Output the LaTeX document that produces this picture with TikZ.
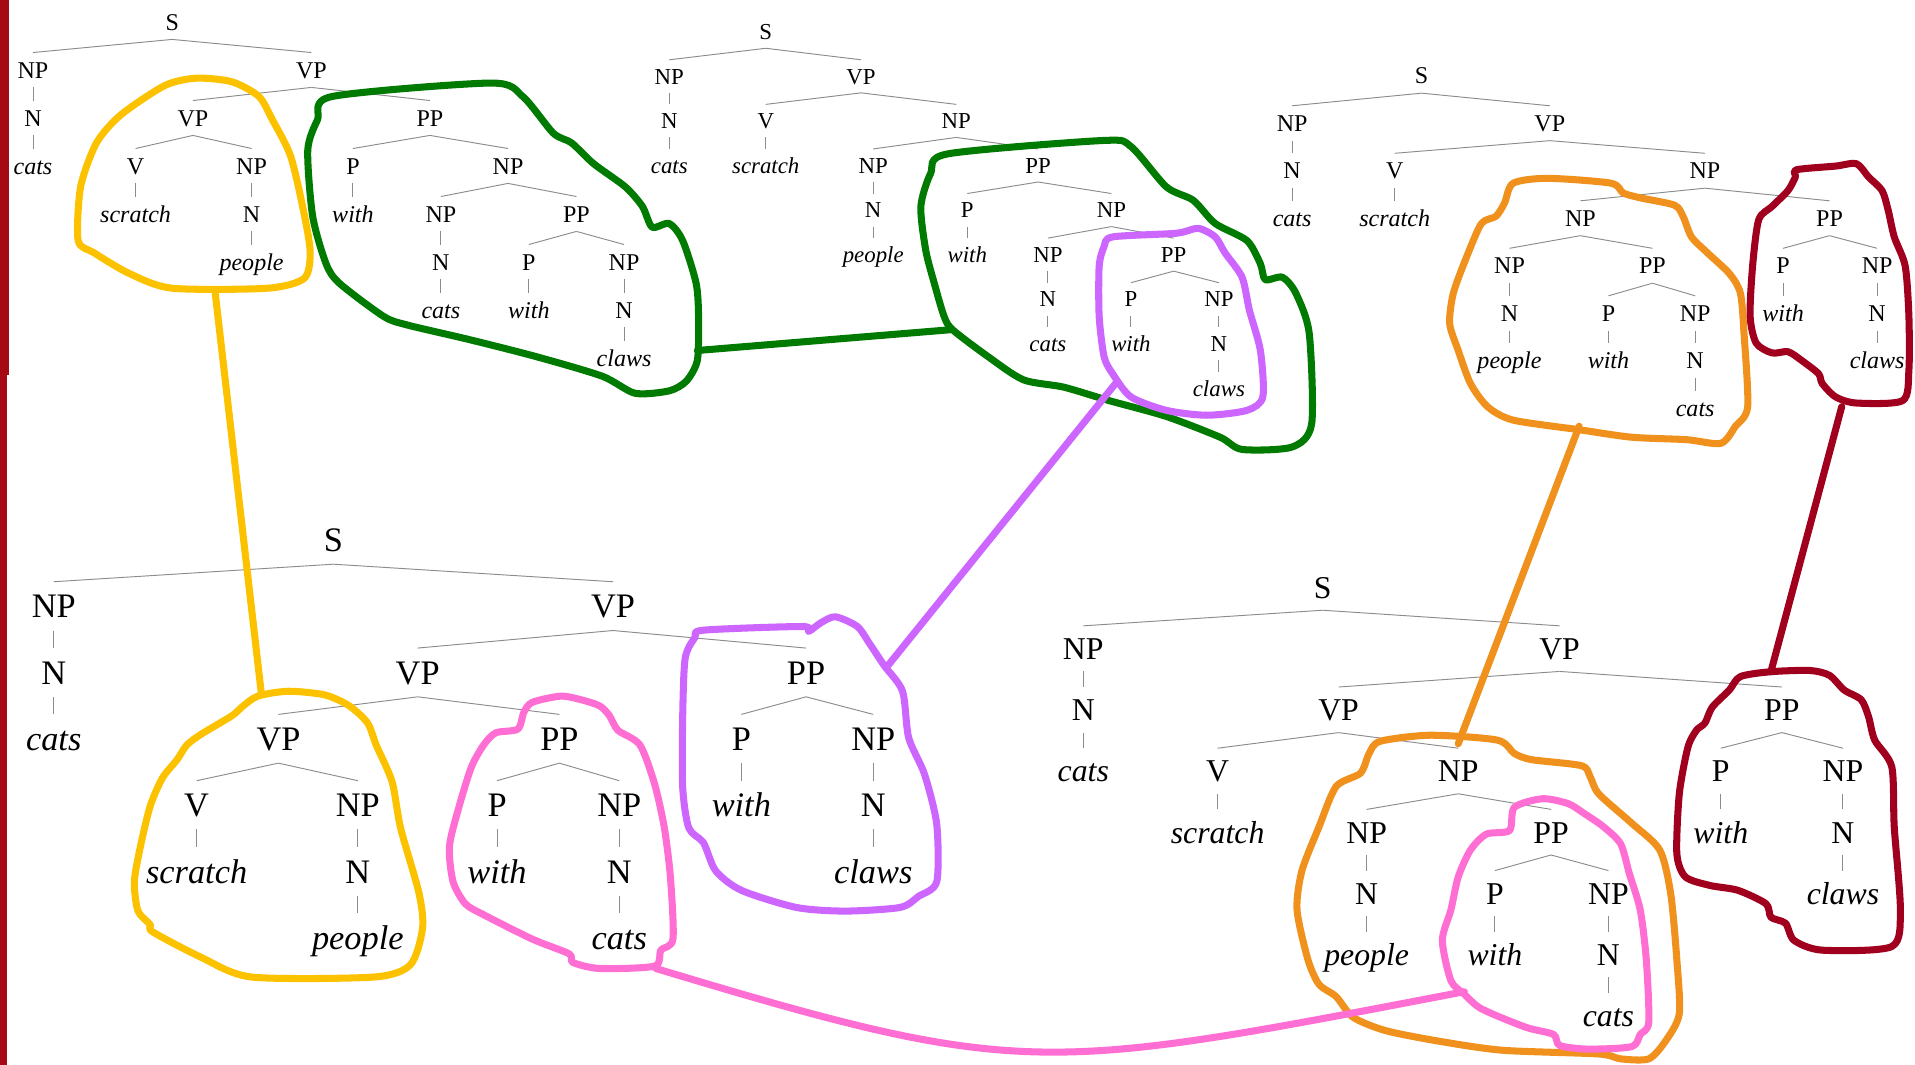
\documentclass[tikz,border=0pt]{standalone}
\usepackage{fontspec}
\setmainfont{Liberation Serif}
\definecolor{cyel}{RGB}{252,194,0}
\definecolor{cgrn}{RGB}{0,122,0}
\definecolor{cpur}{RGB}{204,102,255}
\definecolor{cpnk}{RGB}{255,110,210}
\definecolor{corg}{RGB}{240,145,30}
\definecolor{cdrd}{RGB}{160,0,30}
\definecolor{cbar}{RGB}{165,10,20}
\begin{document}
\begin{tikzpicture}[x=0.025cm,y=-0.025cm,
  tn/.style={inner sep=0pt,outer xsep=0pt,anchor=center,text depth=0pt},
  fA/.style={tn,font=\fontsize{14}{16}\selectfont,text height=9.5pt,outer ysep=0.19cm},
  fB/.style={tn,font=\fontsize{13.3}{15}\selectfont,text height=9.0pt,outer ysep=0.18cm},
  fD/.style={tn,font=\fontsize{20}{22}\selectfont,text height=13.6pt,outer ysep=0.26cm},
  fE/.style={tn,font=\fontsize{18.5}{20}\selectfont,text height=12.6pt,outer ysep=0.245cm},
  br/.style={draw=black!45,line width=0.55pt},
  blob/.style={line width=4.1pt,line join=round,line cap=round},
  bl/.style={blob,smooth cycle,tension=0.45}]
\useasboundingbox (0,0) rectangle (1568,872);
\fill[cbar] (0,0) rectangle (7,307);
\fill[cbar] (0,307) rectangle (6,872);

% tree 1 (top left)
\begin{scope}[every node/.style={fA}]
\foreach \n/\x/\l/\t in {a0/141/0/S, a1/27/1/NP, a2/255/1/VP, a3/27/2/N, a4/27/3/\textit{cats}, a5/158/2/VP, a6/352/2/PP, a7/111/3/V, a8/206/3/NP, a9/111/4/\textit{scratch}, a10/206/4/N, a11/206/5/\textit{people}, a12/289/3/P, a13/416/3/NP, a14/289/4/\textit{with}, a15/361/4/NP, a16/472/4/PP, a17/361/5/N, a18/361/6/\textit{cats}, a19/433/5/P, a20/511/5/NP, a21/433/6/\textit{with}, a22/511/6/N, a23/511/7/\textit{claws}}
  \node (\n) at (\x,18+39.3*\l) {\t};
\end{scope}
\foreach \p/\c in {a0/a1,a0/a2,a1/a3,a3/a4,a2/a5,a2/a6,a5/a7,a5/a8,a7/a9,a8/a10,a10/a11,a6/a12,a6/a13,a12/a14,a13/a15,a13/a16,a15/a17,a17/a18,a16/a19,a16/a20,a19/a21,a20/a22,a22/a23}
  \draw[br] (\p.south) -- (\c.north);

% tree 2 (top middle)
\begin{scope}[every node/.style={fB}]
\foreach \n/\x/\l/\t in {b0/627/0/S, b1/548/1/NP, b2/705/1/VP, b3/548/2/N, b4/548/3/\textit{cats}, b5/627/2/V, b6/783/2/NP, b7/627/3/\textit{scratch}, b8/715/3/NP, b9/850/3/PP, b10/715/4/N, b11/715/5/\textit{people}, b12/792/4/P, b13/910/4/NP, b14/792/5/\textit{with}, b15/858/5/NP, b16/961/5/PP, b17/858/6/N, b18/858/7/\textit{cats}, b19/926/6/P, b20/998/6/NP, b21/926/7/\textit{with}, b22/998/7/N, b23/998/8/\textit{claws}}
  \node (\n) at (\x,26+36.5*\l) {\t};
\end{scope}
\foreach \p/\c in {b0/b1,b0/b2,b1/b3,b3/b4,b2/b5,b2/b6,b5/b7,b6/b8,b6/b9,b8/b10,b10/b11,b9/b12,b9/b13,b12/b14,b13/b15,b13/b16,b15/b17,b17/b18,b16/b19,b16/b20,b19/b21,b20/b22,b22/b23}
  \draw[br] (\p.south) -- (\c.north);

% tree 3 (top right)
\begin{scope}[every node/.style={fA}]
\foreach \n/\x/\l/\t in {c0/1164/0/S, c1/1058/1/NP, c2/1269/1/VP, c3/1058/2/N, c4/1058/3/\textit{cats}, c5/1142/2/V, c6/1396/2/NP, c7/1142/3/\textit{scratch}, c8/1294/3/NP, c9/1498/3/PP, c10/1236/4/NP, c11/1353/4/PP, c12/1236/5/N, c13/1236/6/\textit{people}, c14/1317/5/P, c15/1388/5/NP, c16/1317/6/\textit{with}, c17/1388/6/N, c18/1388/7/\textit{cats}, c19/1460/4/P, c20/1537/4/NP, c21/1460/5/\textit{with}, c22/1537/5/N, c23/1537/6/\textit{claws}}
  \node (\n) at (\x,62+38.9*\l) {\t};
\end{scope}
\foreach \p/\c in {c0/c1,c0/c2,c1/c3,c3/c4,c2/c5,c2/c6,c5/c7,c6/c8,c6/c9,c8/c10,c8/c11,c10/c12,c12/c13,c11/c14,c11/c15,c14/c16,c15/c17,c17/c18,c9/c19,c9/c20,c19/c21,c20/c22,c22/c23}
  \draw[br] (\p.south) -- (\c.north);

% tree 4 (bottom left)
\begin{scope}[every node/.style={fD}]
\foreach \n/\x/\l/\t in {d0/273/0/S, d1/44/1/NP, d2/502/1/VP, d3/44/2/N, d4/44/3/\textit{cats}, d5/342/2/VP, d6/660/2/PP, d7/228/3/VP, d8/458/3/PP, d9/161/4/V, d10/293/4/NP, d11/161/5/\textit{scratch}, d12/293/5/N, d13/293/6/\textit{people}, d14/407/4/P, d15/507/4/NP, d16/407/5/\textit{with}, d17/507/5/N, d18/507/6/\textit{cats}, d19/607/3/P, d20/715/3/NP, d21/607/4/\textit{with}, d22/715/4/N, d23/715/5/\textit{claws}}
  \node (\n) at (\x,442+54.3*\l) {\t};
\end{scope}
\foreach \p/\c in {d0/d1,d0/d2,d1/d3,d3/d4,d2/d5,d2/d6,d5/d7,d5/d8,d7/d9,d7/d10,d9/d11,d10/d12,d12/d13,d8/d14,d8/d15,d14/d16,d15/d17,d17/d18,d6/d19,d6/d20,d19/d21,d20/d22,d22/d23}
  \draw[br] (\p.south) -- (\c.north);

% tree 5 (bottom right)
\begin{scope}[every node/.style={fE}]
\foreach \n/\x/\l/\t in {e0/1083/0/S, e1/887/1/NP, e2/1277/1/VP, e3/887/2/N, e4/887/3/\textit{cats}, e5/1096/2/VP, e6/1459/2/PP, e7/997/3/V, e8/1194/3/NP, e9/997/4/\textit{scratch}, e10/1119/4/NP, e11/1270/4/PP, e12/1119/5/N, e13/1119/6/\textit{people}, e14/1224/5/P, e15/1317/5/NP, e16/1224/6/\textit{with}, e17/1317/6/N, e18/1317/7/\textit{cats}, e19/1409/3/P, e20/1509/3/NP, e21/1409/4/\textit{with}, e22/1509/4/N, e23/1509/5/\textit{claws}}
  \node (\n) at (\x,481+50.1*\l) {\t};
\end{scope}
\foreach \p/\c in {e0/e1,e0/e2,e1/e3,e3/e4,e2/e5,e2/e6,e5/e7,e5/e8,e7/e9,e8/e10,e8/e11,e10/e12,e12/e13,e11/e14,e11/e15,e14/e16,e15/e17,e17/e18,e6/e19,e6/e20,e19/e21,e20/e22,e22/e23}
  \draw[br] (\p.south) -- (\c.north);

% blobs
\draw[bl,cyel] plot coordinates {(161,64) (190,67) (212,79) (223,98) (238,128) (249,175) (254,207) (249,228) (219,236) (141,236) (106,224) (77,207) (64,197) (66,153) (79,117) (99,94) (135,70)};
\draw[bl,cgrn] plot coordinates {(272,79) (402,68) (428,79) (453,109) (468,117) (486,134) (512,153) (526,169) (534,186) (548,183) (559,197) (570,232) (572,260) (571,295) (562,312) (548,320) (520,322) (493,308) (439,292) (384,278) (333,266) (314,259) (278,232) (267,216) (256,177) (252,123) (260,98)};
\draw[bl,cgrn] plot coordinates {(776,126) (904,115) (926,120) (955,153) (977,164) (995,183) (1021,197) (1032,216) (1036,229) (1050,227) (1061,240) (1072,273) (1074,347) (1058,366) (1017,368) (999,358) (955,341) (908,328) (871,317) (838,311) (809,292) (780,270) (773,259) (765,232) (758,205) (754,169) (762,142)};
\draw[bl,cpur] plot coordinates {(911,194) (963,191) (981,187) (995,194) (1003,207) (1017,227) (1023,254) (1032,287) (1034,325) (1021,336) (988,340) (955,336) (926,325) (911,306) (904,292) (900,259) (900,218) (904,202)};
\draw[bl,corg] plot coordinates {(1239,150) (1267,146) (1319,150) (1329,158) (1343,162) (1371,168) (1378,177) (1385,194) (1398,207) (1416,224) (1425,240) (1428,273) (1431,333) (1421,349) (1409,363) (1381,360) (1336,358) (1294,352) (1239,344) (1218,333) (1204,314) (1194,287) (1187,265) (1190,240) (1201,210) (1213,183) (1225,177) (1232,166)};
\draw[bl,cdrd] plot coordinates {(1471,139) (1503,136) (1520,134) (1530,145) (1541,156) (1546,172) (1551,194) (1560,218) (1563,259) (1563,303) (1558,328) (1520,330) (1503,325) (1492,314) (1489,306) (1475,295) (1464,288) (1451,289) (1438,281) (1433,259) (1435,218) (1440,180) (1451,169) (1464,156) (1470,145)};
\draw[bl,cyel] plot coordinates {(236,566) (211,570) (198,579) (190,586) (165,601) (153,610) (145,622) (133,637) (123,660) (115,693) (110,722) (113,746) (123,757) (125,763) (165,784) (206,800) (306,800) (336,790) (346,760) (343,731) (328,678) (321,640) (308,610) (301,592) (286,578) (266,569)};
\draw[bl,cpnk] plot coordinates {(459,570) (436,575) (429,583) (424,597) (406,600) (396,610) (386,628) (376,660) (368,693) (371,722) (381,740) (396,749) (436,769) (466,781) (469,788) (491,793) (536,791) (541,778) (551,769) (549,719) (544,678) (536,642) (524,610) (506,598) (499,586) (491,578) (476,573)};
\draw[bl,cpur] plot coordinates {(576,516) (657,513) (662,517) (672,510) (684,505) (702,513) (712,527) (724,545) (739,566) (744,604) (757,634) (767,675) (767,722) (752,734) (737,743) (692,746) (652,743) (607,729) (586,713) (576,690) (564,678) (559,645) (559,586) (561,539) (569,522)};
\draw[bl,corg] plot coordinates {(1130,607) (1171,602) (1226,606) (1240,617) (1254,622) (1295,627) (1302,636) (1309,650) (1336,674) (1359,696) (1368,732) (1373,786) (1375,830) (1364,852) (1350,867) (1327,867) (1309,863) (1231,860) (1181,853) (1135,844) (1108,833) (1094,816) (1080,806) (1071,786) (1062,745) (1066,713) (1080,677) (1094,644) (1114,633) (1121,617)};
\draw[bl,cpnk] plot coordinates {(1263,654) (1240,661) (1236,680) (1217,683) (1204,696) (1194,718) (1188,745) (1181,770) (1188,803) (1199,814) (1213,826) (1249,841) (1272,847) (1277,856) (1300,859) (1336,857) (1343,847) (1350,837) (1348,786) (1343,745) (1334,715) (1327,691) (1313,677) (1297,666) (1284,658)};
\draw[bl,cdrd] plot coordinates {(1425,554) (1450,550) (1482,549) (1498,553) (1510,565) (1524,573) (1530,587) (1535,606) (1549,628) (1551,677) (1556,745) (1549,775) (1492,778) (1469,770) (1462,756) (1450,751) (1446,740) (1423,729) (1400,725) (1380,718) (1373,699) (1375,650) (1382,612) (1389,598) (1396,592) (1402,579) (1416,565)};

% connectors between blobs
\coordinate (y1) at (176,238); \coordinate (y2) at (214,568);
\coordinate (g1) at (571,287); \coordinate (g2) at (778,270);
\coordinate (p1) at (915,312); \coordinate (p2) at (727,545);
\coordinate (k1) at (537,793); \coordinate (k2) at (1199,812);
\coordinate (o1) at (1293,349); \coordinate (o2) at (1194,609);
\coordinate (r1) at (1508,333); \coordinate (r2) at (1450,550);
\draw[blob,cyel] (y1) -- (y2);
\draw[blob,cgrn] (g1) -- (g2);
\draw[blob,cpur] (p1) -- (p2);
\draw[blob,cpnk] (k1) .. controls (839,884) and (854,878) .. (k2);
\draw[blob,corg] (o1) -- (o2);
\draw[blob,cdrd] (r1) -- (r2);
\end{tikzpicture}
\end{document}
